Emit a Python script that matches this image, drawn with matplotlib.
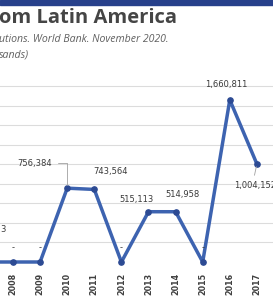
import matplotlib.pyplot as plt
import numpy as np

years = [2007, 2008, 2009, 2010, 2011, 2012, 2013, 2014, 2015, 2016, 2017]
values = [0, 0, 0, 756384, 743564, 0, 515113, 514958, 0, 1660811, 1004152]
tick_years = [2008, 2009, 2010, 2011, 2012, 2013, 2014, 2015, 2016, 2017]

title = "om Latin America"
subtitle1 = "utions. World Bank. November 2020."
subtitle2 = "sands)"

# label offsets in pixels (dx, dy) relative to each point
offsets = {2008: (0, 14), 2009: (0, 14), 2010: (-33, 25), 2011: (16, 18),
           2012: (0, 14), 2013: (-12, 12), 2014: (7, 17), 2015: (0, 14),
           2016: (-4, 15), 2017: (-2, -22)}

line_col = "#3d63b0"
mark_col = "#2c4a93"
txt_col = "#3a3a3a"

fig = plt.figure(figsize=(2.73, 3.0), dpi=100)
fig.patch.set_facecolor("white")

# top banner
fig.add_artist(plt.Rectangle((0, 1 - 5 / 300), 1, 5 / 300, transform=fig.transFigure,
                             color="#27408b", zorder=0))

fig.text(-0.005, 1 - 18 / 300, title, fontsize=14.5, fontweight="bold", color="#454545",
         va="center", ha="left", family="Open Sans")
fig.text(-0.005, 1 - 40 / 300, subtitle1, fontsize=7.6, style="italic", color="#606060",
         va="center", ha="left", family="Open Sans")
fig.text(-0.005, 1 - 55 / 300, subtitle2, fontsize=7.6, style="italic", color="#606060",
         va="center", ha="left", family="Open Sans")

# axes: 2008 at x=13px, 27.1 px per year; zero at y=262px, 97.6 px per million
px_year = 27.1
x0 = 2008 - 13 / px_year
x1 = 2008 + (273 - 13) / px_year
bottom = 1 - 262 / 300
top_px = 70
height = (262 - top_px) / 300
ax = fig.add_axes([0, bottom, 1, height])
ax.set_xlim(x0, x1)
ax.set_ylim(0, (262 - top_px) / 97.6e-6)

for g in np.arange(200000, 1800001, 200000):
    ax.axhline(g, color="#dcdcdc", lw=0.8, zorder=0)

ax.plot(years, values, color=line_col, lw=2.5, marker="o", ms=3.8,
        mfc=mark_col, mec=mark_col, clip_on=False, zorder=3)

for y, v in zip(years, values):
    if y not in offsets:
        continue
    dx, dy = offsets[y]
    lab = "-" if v == 0 else f"{v:,}"
    ax.annotate(lab, (y, v), xytext=(dx, dy), textcoords="offset pixels",
                ha="center", va="center", fontsize=6, color=txt_col,
                annotation_clip=False, zorder=4)

# leader lines for the displaced labels
ax.annotate("", (2010, 756384), xytext=(-12, 25), textcoords="offset pixels",
            arrowprops=dict(arrowstyle="-", color="#a0a0a0", lw=0.6,
                            connectionstyle="angle,angleA=0,angleB=90,rad=0"))
ax.annotate("", (2017, 1004152), xytext=(-3, -14), textcoords="offset pixels",
            arrowprops=dict(arrowstyle="-", color="#a0a0a0", lw=0.6))

# part of a clipped label at the left edge
fig.text(0.0, 1 - 230 / 300, "3", fontsize=6, color=txt_col, va="center", ha="left")

ax.set_xticks(tick_years)
ax.set_xticklabels([str(t) for t in tick_years], rotation=90, fontsize=5.8,
                   color="#404040", fontweight="bold")
ax.tick_params(axis="x", length=0, pad=8)
ax.set_yticks([])
for s in ax.spines.values():
    s.set_visible(False)

fig.savefig("out.png", dpi=100, facecolor="white")
